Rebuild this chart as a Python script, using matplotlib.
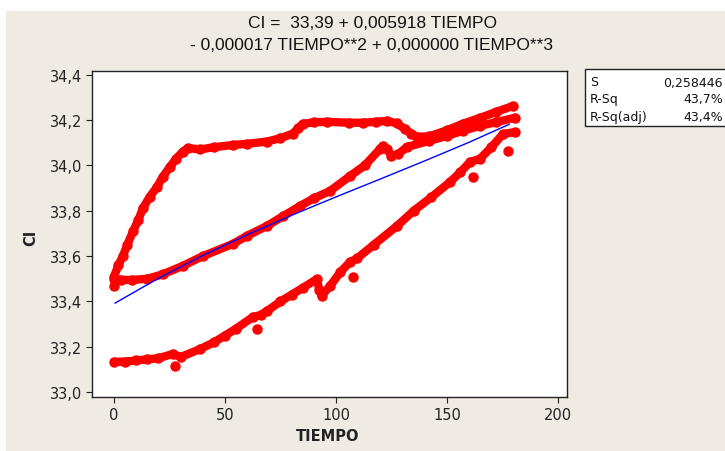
import numpy as np
import matplotlib
matplotlib.use('Agg')
import matplotlib.pyplot as plt
from matplotlib.patches import Rectangle

# ramas de datos (TIEMPO, CI)
t_sup = [0, 2, 4, 6, 8.6, 11, 13, 16, 19.4, 22, 25.2, 28, 31, 33.3, 38.7, 45, 53.6, 60,
         68.9, 75, 80.6, 83, 85.1, 90, 96, 106, 112, 118, 123, 127.5, 131, 134, 136.5,
         142, 150, 157, 165, 172, 179.7]
ci_sup = [33.51, 33.56, 33.60, 33.65, 33.71, 33.76, 33.81, 33.86, 33.905, 33.95, 33.993,
          34.03, 34.06, 34.077, 34.07, 34.08, 34.09, 34.095, 34.105, 34.12, 34.14, 34.165,
          34.183, 34.19, 34.192, 34.188, 34.188, 34.192, 34.196, 34.185, 34.16, 34.14,
          34.126, 34.128, 34.155, 34.183, 34.21, 34.235, 34.262]

t_med = [0, 3, 8, 15, 22, 31, 40, 53.6, 60, 68.9, 76, 83.8, 90, 97.3, 106.3, 113, 119.8,
         121, 123, 125, 128, 132, 142, 150, 157, 165, 172, 180.6]
ci_med = [33.50, 33.495, 33.495, 33.50, 33.52, 33.557, 33.60, 33.654, 33.69, 33.733,
          33.775, 33.821, 33.855, 33.887, 33.953, 34.00, 34.072, 34.086, 34.07, 34.042,
          34.05, 34.081, 34.108, 34.13, 34.152, 34.175, 34.19, 34.21]

t_inf = [0, 5, 10, 15, 20, 26.6, 30, 38.7, 45, 50, 55, 62.6, 66, 68.9, 75, 80, 85, 91.4,
         92.5, 93.5, 97.3, 102, 106.3, 109.5, 117, 127.5, 135, 143, 151.4, 156, 160.4,
         165, 170, 175.2, 180.6]
ci_inf = [33.134, 33.135, 33.14, 33.145, 33.15, 33.169, 33.155, 33.19, 33.22, 33.25,
          33.28, 33.332, 33.34, 33.358, 33.40, 33.43, 33.46, 33.499, 33.45, 33.425,
          33.468, 33.53, 33.574, 33.59, 33.65, 33.733, 33.80, 33.86, 33.927, 33.97,
          34.015, 34.03, 34.08, 34.138, 34.147]

# puntos sueltos
t_sueltos = [0, 27.5, 64.4, 107.7, 161.7, 177.5]
ci_sueltos = [33.468, 33.116, 33.279, 33.508, 33.949, 34.063]

# ajuste cubico (curva azul)
t_ajuste = [0.5, 20, 40, 60, 80, 100, 120, 140, 160, 178]
ci_ajuste = [33.393, 33.502, 33.603, 33.694, 33.780, 33.861, 33.940, 34.020, 34.102, 34.181]

yticks = [33.0, 33.2, 33.4, 33.6, 33.8, 34.0, 34.2, 34.4]
ytick_labels = ['33,0', '33,2', '33,4', '33,6', '33,8', '34,0', '34,2', '34,4']
xticks = [0, 50, 100, 150, 200]

stats_names = ['S', 'R-Sq', 'R-Sq(adj)']
stats_vals = ['0,258446', '43,7%', '43,4%']

beige = '#EFEBE2'
fig = plt.figure(figsize=(7.25, 4.52), dpi=100)
fig.patch.set_facecolor(beige)
fig.patches.append(Rectangle((0, 0), 6/725., 1, transform=fig.transFigure,
                             facecolor='white', edgecolor='none', zorder=0))
fig.patches.append(Rectangle((0, 1-12/452.), 1, 12/452., transform=fig.transFigure,
                             facecolor='white', edgecolor='none', zorder=0))

ax = fig.add_axes([92/725., 1-398/452., 475/725., 326/452.])
ax.set_facecolor('white')

for tt, cc in [(t_sup, ci_sup), (t_med, ci_med), (t_inf, ci_inf)]:
    ax.plot(tt, cc, color='#FF0000', linewidth=6, solid_capstyle='round',
            solid_joinstyle='round', marker='o', markersize=6.5, zorder=2)
ax.plot(t_sueltos, ci_sueltos, 'o', color='#FF0000', markersize=6.5, zorder=2)
ax.plot(t_ajuste, ci_ajuste, color='#0000FF', linewidth=1.0, zorder=3)

ax.set_xlim(-9.9, 204.05)
ax.set_ylim(32.979, 34.416)
ax.set_xticks(xticks)
ax.set_yticks(yticks)
ax.set_yticklabels(ytick_labels)
ax.tick_params(direction='out', length=4, width=0.8, labelsize=10.5,
               colors='#222222', pad=3)
for sp in ax.spines.values():
    sp.set_linewidth(1.0)
    sp.set_color('#222222')

fig.text(328/725., 1-437/452., 'TIEMPO', ha='center', va='center',
         fontsize=10.5, fontweight='bold', color='#222222')
fig.text(31/725., 1-238/452., 'CI', ha='center', va='center', rotation=90,
         fontsize=10.5, fontweight='bold', color='#222222')

tfam = 'Liberation Sans'
fig.text(372/725., 1-23/452., 'CI =  33,39 + 0,005918 TIEMPO', ha='center',
         va='center', fontsize=12.5, family=tfam, color='#111111')
fig.text(372/725., 1-46/452., '- 0,000017 TIEMPO**2 + 0,000000 TIEMPO**3',
         ha='center', va='center', fontsize=12.5, family=tfam, color='#111111')

# cuadro de estadisticos
fig.patches.append(Rectangle((585/725., 1-127/452.), 0.3, 57/452.,
                             transform=fig.transFigure, facecolor='white',
                             edgecolor='#222222', linewidth=1.0, zorder=1))
for i, (nm, vl) in enumerate(zip(stats_names, stats_vals)):
    y = 1-(83+17*i)/452.
    fig.text(590/725., y, nm, ha='left', va='center', fontsize=9, color='#111111')
    fig.text(723/725., y, vl, ha='right', va='center', fontsize=9, color='#111111')

fig.savefig('out.png', dpi=100, facecolor=fig.get_facecolor())
